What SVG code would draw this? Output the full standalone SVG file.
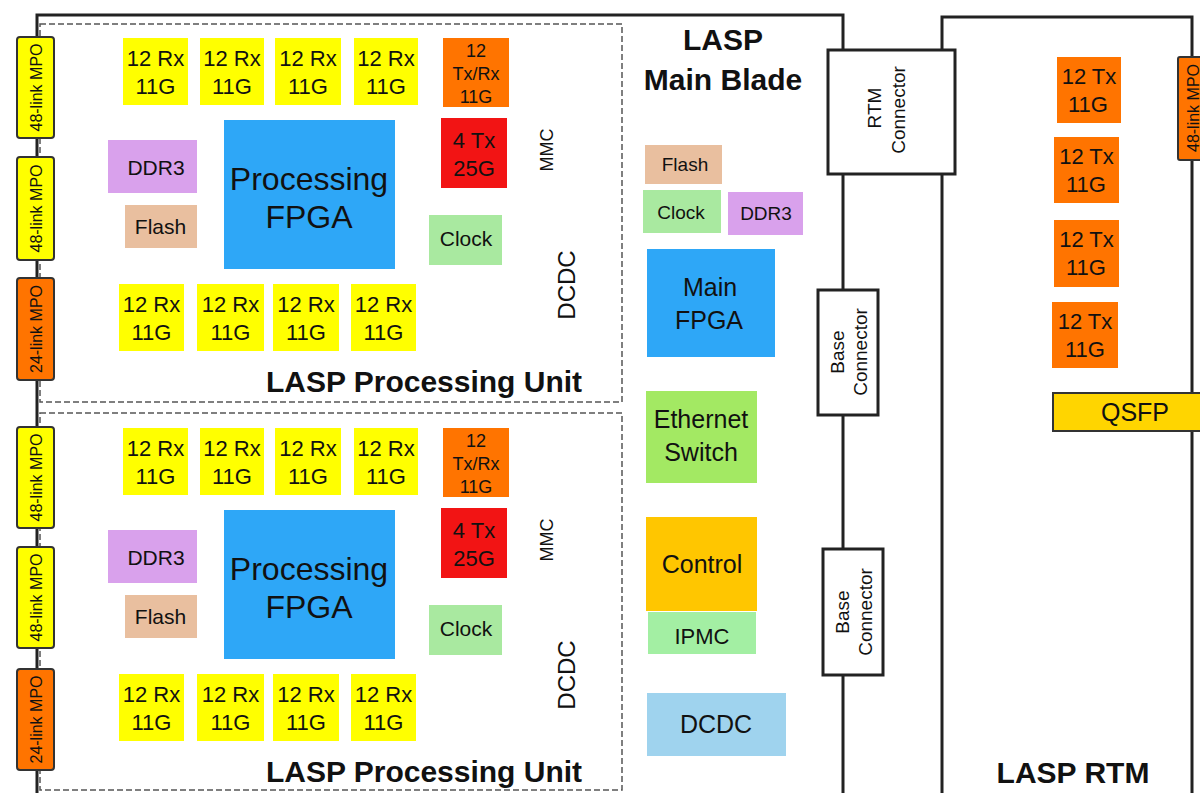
<svg xmlns="http://www.w3.org/2000/svg" width="1200" height="793" viewBox="0 0 1200 793">
<style>
text{font-family:"Liberation Sans",Arial,sans-serif;fill:#111;text-anchor:middle}
.board{fill:none;stroke:#222;stroke-width:3}
.pu{fill:none;stroke:#555;stroke-width:1.5;stroke-dasharray:6 3}
.mpo{stroke:#333;stroke-width:2}
.conn{fill:#fff;stroke:#222;stroke-width:3}
.y{fill:#FFFF00}.o{fill:#FF7400}.r{fill:#F21414}.b{fill:#2EA7F7}.p{fill:#D9A1EC}.f{fill:#E9BF9F}.c{fill:#A9E9A0}
.rx{font-size:22px}.s16{font-size:16px}.s18{font-size:18px}.s19{font-size:19px}.s21{font-size:21px}.s22{font-size:22px}.s24{font-size:24px}.s25{font-size:25px}.big{font-size:32px}.title{font-size:30px;font-weight:bold}
</style>
<rect width="1200" height="793" fill="#fff"/>
<g id="boards">
<path class="board" d="M37 800 V15 H843 V800"/>
<path class="board" d="M942 800 V17 H1192 V800"/>
<rect class="pu" x="40" y="24" width="582" height="378"/>
<rect class="pu" x="40" y="413" width="582" height="377"/>
</g>
<g id="connectors"></g>
<g id="mpo-1"><rect class="mpo y" x="17" y="37" width="37" height="101" rx="3"/><text class="s16" transform="translate(36,87.5) rotate(-90)" dy="0.35em">48-link MPO</text></g>
<g id="mpo-2"><rect class="mpo y" x="17" y="157" width="37" height="103" rx="3"/><text class="s16" transform="translate(36,208.5) rotate(-90)" dy="0.35em">48-link MPO</text></g>
<g id="mpo-3"><rect class="mpo o" x="17" y="278" width="37" height="102" rx="3"/><text class="s16" transform="translate(36,329) rotate(-90)" dy="0.35em">24-link MPO</text></g>
<g id="mpo-4"><rect class="mpo y" x="17" y="427" width="37" height="101" rx="3"/><text class="s16" transform="translate(36,477.5) rotate(-90)" dy="0.35em">48-link MPO</text></g>
<g id="mpo-5"><rect class="mpo y" x="17" y="547" width="37" height="101" rx="3"/><text class="s16" transform="translate(36,597.5) rotate(-90)" dy="0.35em">48-link MPO</text></g>
<g id="mpo-6"><rect class="mpo o" x="17" y="669" width="37" height="101" rx="3"/><text class="s16" transform="translate(36,719.5) rotate(-90)" dy="0.35em">24-link MPO</text></g>

<g id="pu1">
<g id="pu1-rx1"><rect class="y" x="123" y="38" width="65" height="67"/><text class="rx" x="155.5" y="66">12 Rx</text><text class="rx" x="155.5" y="94">11G</text></g>
<g id="pu1-rx2"><rect class="y" x="200" y="38" width="64" height="67"/><text class="rx" x="232" y="66">12 Rx</text><text class="rx" x="232" y="94">11G</text></g>
<g id="pu1-rx3"><rect class="y" x="275" y="38" width="66" height="67"/><text class="rx" x="308" y="66">12 Rx</text><text class="rx" x="308" y="94">11G</text></g>
<g id="pu1-rx4"><rect class="y" x="354" y="38" width="64" height="67"/><text class="rx" x="386" y="66">12 Rx</text><text class="rx" x="386" y="94">11G</text></g>
<g id="pu1-txrx"><rect class="o" x="443" y="38" width="66" height="69"/><text class="s18" x="476" y="57">12</text><text class="s18" x="476" y="80">Tx/Rx</text><text class="s18" x="476" y="103">11G</text></g>
<g id="pu1-tx25"><rect class="r" x="441" y="118" width="66" height="70"/><text class="rx" x="474" y="148">4 Tx</text><text class="rx" x="474" y="176">25G</text></g>
<g id="pu1-ddr3"><rect class="p" x="108" y="140" width="89" height="53"/><text class="s21" x="156" y="175">DDR3</text></g>
<g id="pu1-flash"><rect class="f" x="125" y="205" width="72" height="43"/><text class="s21" x="160.5" y="234">Flash</text></g>
<g id="pu1-fpga"><rect class="b" x="224" y="120" width="171" height="149"/><text class="big" x="309" y="190">Processing</text><text class="big" x="309" y="228">FPGA</text></g>
<g id="pu1-clock"><rect class="c" x="429" y="215" width="73" height="50"/><text class="s21" x="466" y="246">Clock</text></g>
<g id="pu1-mmc"><text class="s18" transform="translate(547,150) rotate(-90)" dy="0.35em">MMC</text></g>
<g id="pu1-dcdc"><text class="s24" transform="translate(567,285) rotate(-90)" dy="0.35em">DCDC</text></g>
<g id="pu1-rx5"><rect class="y" x="119" y="284" width="65" height="67"/><text class="rx" x="151.5" y="312">12 Rx</text><text class="rx" x="151.5" y="340">11G</text></g>
<g id="pu1-rx6"><rect class="y" x="197" y="284" width="67" height="67"/><text class="rx" x="230.5" y="312">12 Rx</text><text class="rx" x="230.5" y="340">11G</text></g>
<g id="pu1-rx7"><rect class="y" x="273" y="284" width="66" height="67"/><text class="rx" x="306" y="312">12 Rx</text><text class="rx" x="306" y="340">11G</text></g>
<g id="pu1-rx8"><rect class="y" x="351" y="284" width="65" height="67"/><text class="rx" x="383.5" y="312">12 Rx</text><text class="rx" x="383.5" y="340">11G</text></g>
<text class="title" x="424" y="392">LASP Processing Unit</text>
</g>

<g id="pu2">
<g id="pu2-rx1"><rect class="y" x="123" y="428" width="65" height="67"/><text class="rx" x="155.5" y="456">12 Rx</text><text class="rx" x="155.5" y="484">11G</text></g>
<g id="pu2-rx2"><rect class="y" x="200" y="428" width="64" height="67"/><text class="rx" x="232" y="456">12 Rx</text><text class="rx" x="232" y="484">11G</text></g>
<g id="pu2-rx3"><rect class="y" x="275" y="428" width="66" height="67"/><text class="rx" x="308" y="456">12 Rx</text><text class="rx" x="308" y="484">11G</text></g>
<g id="pu2-rx4"><rect class="y" x="354" y="428" width="64" height="67"/><text class="rx" x="386" y="456">12 Rx</text><text class="rx" x="386" y="484">11G</text></g>
<g id="pu2-txrx"><rect class="o" x="443" y="428" width="66" height="69"/><text class="s18" x="476" y="447">12</text><text class="s18" x="476" y="470">Tx/Rx</text><text class="s18" x="476" y="493">11G</text></g>
<g id="pu2-tx25"><rect class="r" x="441" y="508" width="66" height="70"/><text class="rx" x="474" y="538">4 Tx</text><text class="rx" x="474" y="566">25G</text></g>
<g id="pu2-ddr3"><rect class="p" x="108" y="530" width="89" height="53"/><text class="s21" x="156" y="565">DDR3</text></g>
<g id="pu2-flash"><rect class="f" x="125" y="595" width="72" height="43"/><text class="s21" x="160.5" y="624">Flash</text></g>
<g id="pu2-fpga"><rect class="b" x="224" y="510" width="171" height="149"/><text class="big" x="309" y="580">Processing</text><text class="big" x="309" y="618">FPGA</text></g>
<g id="pu2-clock"><rect class="c" x="429" y="605" width="73" height="50"/><text class="s21" x="466" y="636">Clock</text></g>
<g id="pu2-mmc"><text class="s18" transform="translate(547,540) rotate(-90)" dy="0.35em">MMC</text></g>
<g id="pu2-dcdc"><text class="s24" transform="translate(567,675) rotate(-90)" dy="0.35em">DCDC</text></g>
<g id="pu2-rx5"><rect class="y" x="119" y="674" width="65" height="67"/><text class="rx" x="151.5" y="702">12 Rx</text><text class="rx" x="151.5" y="730">11G</text></g>
<g id="pu2-rx6"><rect class="y" x="197" y="674" width="67" height="67"/><text class="rx" x="230.5" y="702">12 Rx</text><text class="rx" x="230.5" y="730">11G</text></g>
<g id="pu2-rx7"><rect class="y" x="273" y="674" width="66" height="67"/><text class="rx" x="306" y="702">12 Rx</text><text class="rx" x="306" y="730">11G</text></g>
<g id="pu2-rx8"><rect class="y" x="351" y="674" width="65" height="67"/><text class="rx" x="383.5" y="702">12 Rx</text><text class="rx" x="383.5" y="730">11G</text></g>
<text class="title" x="424" y="782">LASP Processing Unit</text>
</g>

<g id="main-blade">
<text class="title" x="723" y="50">LASP</text>
<text class="title" x="723" y="90">Main Blade</text>
<g id="mb-flash"><rect class="f" x="645" y="145" width="77" height="39"/><text class="s19" x="685" y="171">Flash</text></g>
<g id="mb-clock"><rect class="c" x="643" y="190" width="78" height="43"/><text class="s19" x="681" y="219">Clock</text></g>
<g id="mb-ddr3"><rect class="p" x="728" y="192" width="75" height="43"/><text class="s19" x="766" y="220">DDR3</text></g>
<g id="mb-fpga"><rect class="b" x="647" y="249" width="128" height="108"/><text class="s25" x="710" y="296">Main</text><text class="s25" x="709" y="329">FPGA</text></g>
<g id="mb-eth"><rect x="646" y="391" width="111" height="92" fill="#A3E963"/><text class="s25" x="701" y="428">Ethernet</text><text class="s25" x="701" y="461">Switch</text></g>
<g id="mb-control"><rect x="646" y="517" width="111" height="94" fill="#FFC600"/><text class="s25" x="702" y="573">Control</text></g>
<g id="mb-ipmc"><rect x="648" y="612" width="108" height="42" fill="#A3EFA3"/><text class="s22" x="702" y="644">IPMC</text></g>
<g id="mb-dcdc"><rect x="647" y="693" width="139" height="63" fill="#9FD3EE"/><text class="s25" x="716" y="733">DCDC</text></g>
</g>

<g id="rtm-connector"><rect class="conn" x="828" y="50" width="127" height="124"/><text class="s19" transform="translate(874,108) rotate(-90)" dy="0.35em">RTM</text><text class="s19" transform="translate(898,110) rotate(-90)" dy="0.35em">Connector</text></g>
<g id="base-connector-1"><rect class="conn" x="818" y="290" width="60" height="125"/><text class="s19" transform="translate(837,352) rotate(-90)" dy="0.35em">Base</text><text class="s19" transform="translate(860,352) rotate(-90)" dy="0.35em">Connector</text></g>
<g id="base-connector-2"><rect class="conn" x="823" y="549" width="60" height="126"/><text class="s19" transform="translate(842,612) rotate(-90)" dy="0.35em">Base</text><text class="s19" transform="translate(865,612) rotate(-90)" dy="0.35em">Connector</text></g>

<g id="rtm">
<g id="rtm-tx1"><rect class="o" x="1057" y="57" width="64" height="66"/><text class="s22" x="1089" y="84">12 Tx</text><text class="s22" x="1088" y="112">11G</text></g>
<g id="rtm-tx2"><rect class="o" x="1054" y="137" width="65" height="66"/><text class="s22" x="1086.5" y="164">12 Tx</text><text class="s22" x="1086" y="192">11G</text></g>
<g id="rtm-tx3"><rect class="o" x="1054" y="220" width="65" height="67"/><text class="s22" x="1086.5" y="247">12 Tx</text><text class="s22" x="1086" y="275">11G</text></g>
<g id="rtm-tx4"><rect class="o" x="1052" y="302" width="66" height="66"/><text class="s22" x="1085" y="329">12 Tx</text><text class="s22" x="1085" y="357">11G</text></g>
<g id="rtm-qsfp"><rect x="1053" y="393" width="160" height="38" fill="#FFD500" stroke="#333" stroke-width="2"/><text class="s25" x="1135" y="421">QSFP</text></g>
<g id="rtm-mpo"><rect class="mpo o" x="1178" y="57" width="30" height="103" rx="2"/><text class="s16" transform="translate(1193,108) rotate(-90)" dy="0.35em">48-link MPO</text></g>
<text class="title" x="1073" y="783">LASP RTM</text>
</g>
</svg>
